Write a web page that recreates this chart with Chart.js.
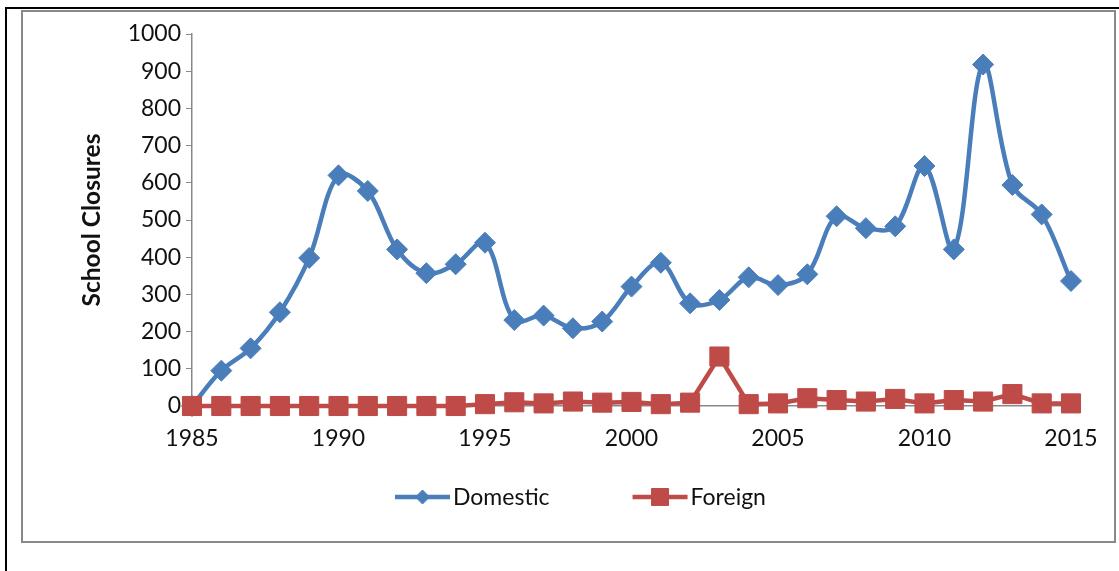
<!DOCTYPE html>
<html>
<head>
<meta charset="utf-8">
<script src="https://cdn.jsdelivr.net/npm/chart.js@4.4.1/dist/chart.umd.min.js"></script>
<style>
  html, body { margin: 0; padding: 0; background: #fff; width: 1119px; height: 571px; overflow: hidden; }
  #frame { position: absolute; left: 5px; top: 7px; width: 1200px; height: 700px; border-left: 2px solid #000; border-top: 2px solid #000; }
  #box { position: absolute; left: 21px; top: 10px; width: 1091px; height: 529px; border: 2px solid #898989; background: #fff; }
  canvas { position: absolute; left: 0; top: 0; }
</style>
</head>
<body>
<div id="frame"></div>
<div id="box"><canvas id="chart" width="1091" height="529"></canvas></div>
<script>
// values
const years = [1985, 1986, 1987, 1988, 1989, 1990, 1991, 1992, 1993, 1994,
  1995, 1996, 1997, 1998, 1999, 2000, 2001, 2002, 2003, 2004,
  2005, 2006, 2007, 2008, 2009, 2010, 2011, 2012, 2013, 2014, 2015];
const domestic = [0, 95, 155, 252, 398, 620, 578, 421, 357, 381,
  439, 231, 243, 209, 227, 321, 385, 276, 285, 346,
  325, 354, 510, 478, 483, 645, 421, 918, 594, 515, 336];
const foreign = [0, 0, 0, 0, 0, 0, 0, 0, 0, 0,
  5, 10, 7, 12, 9, 11, 5, 9, 133, 5,
  7, 21, 16, 12, 19, 7, 16, 12, 32, 7, 7];
const seriesNames = ["Domestic", "Foreign"];
const yAxisTitle = "School Closures";

const BLUE = "#4A7EBB";
const RED = "#BE4B48";
const FONT = "Lato";
const TEXT = "#111";

const toPoints = (vals) => vals.map((v, i) => ({ x: years[i], y: v }));

// Excel-style legend: line sample with the marker on it
const lineLegend = {
	id: "lineLegend",
	afterDraw(chart) {
		const { ctx } = chart;
		ctx.save();
		ctx.font = "23px " + FONT;
		ctx.textBaseline = "middle";
		ctx.textAlign = "left";
		const y = 485;
		let x = 372;
		const samples = [
			{ color: BLUE, style: "rectRot", radius: 7 },
			{ color: RED, style: "rect", radius: 12 },
		];
		seriesNames.forEach((name, i) => {
			const s = samples[i];
			ctx.strokeStyle = s.color;
			ctx.lineWidth = 4.5;
			ctx.beginPath();
			ctx.moveTo(x, y);
			ctx.lineTo(x + 55, y);
			ctx.stroke();
			ctx.fillStyle = s.color;
			ctx.lineWidth = 1;
			Chart.helpers.drawPoint(ctx, { pointStyle: s.style, radius: s.radius, rotation: 0, borderWidth: 1 }, x + 27.5, y);
			ctx.fillStyle = TEXT;
			ctx.fillText(name, x + 58, y + 1);
			x += 58 + ctx.measureText(name).width + 83;
		});
		ctx.restore();
	},
};

new Chart(document.getElementById("chart").getContext("2d"), {
	type: "line",
	data: {
		datasets: [
			{
				label: seriesNames[0],
				data: toPoints(domestic),
				borderColor: BLUE,
				backgroundColor: BLUE,
				borderWidth: 4.5,
				tension: 0.35,
				pointStyle: "rectRot",
				pointRadius: 10.5,
				pointBorderWidth: 1,
				pointBackgroundColor: BLUE,
				pointBorderColor: BLUE,
				clip: false,
				order: 1,
			},
			{
				label: seriesNames[1],
				data: toPoints(foreign),
				borderColor: RED,
				backgroundColor: RED,
				borderWidth: 4.5,
				tension: 0,
				pointStyle: "rect",
				pointRadius: 13.5,
				pointBorderWidth: 1,
				pointBackgroundColor: RED,
				pointBorderColor: RED,
				clip: false,
				order: 0,
			},
		],
	},
	options: {
		responsive: false,
		animation: false,
		devicePixelRatio: 1,
		layout: { padding: { left: 0, right: 43, top: 22, bottom: 0 } },
		scales: {
			x: {
				type: "linear",
				min: years[0],
				max: years[years.length - 1],
				afterFit(scale) { scale.height = 135; },
				ticks: {
					stepSize: 5,
					color: TEXT,
					padding: 13,
					font: { family: FONT, size: 23 },
					callback: (v) => String(v),
				},
				grid: { drawOnChartArea: false, drawTicks: true, tickLength: 6, color: "#898989" },
				border: { display: true, color: "#898989", width: 1.5 },
			},
			y: {
				min: 0,
				max: 1000,
				afterFit(scale) { scale.width = 169; },
				ticks: {
					stepSize: 100,
					color: TEXT,
					padding: 5,
					font: { family: FONT, size: 23 },
					callback: (v) => String(v),
				},
				grid: { drawOnChartArea: false, drawTicks: true, tickLength: 6, color: "#898989" },
				border: { display: true, color: "#898989", width: 1.5 },
				title: {
					display: true,
					text: yAxisTitle,
					color: TEXT,
					font: { family: FONT, size: 24.5, weight: "bold" },
					padding: { top: 54 },
				},
			},
		},
		plugins: {
			legend: { display: false },
			tooltip: { enabled: false },
		},
	},
	plugins: [lineLegend],
});
</script>
</body>
</html>
